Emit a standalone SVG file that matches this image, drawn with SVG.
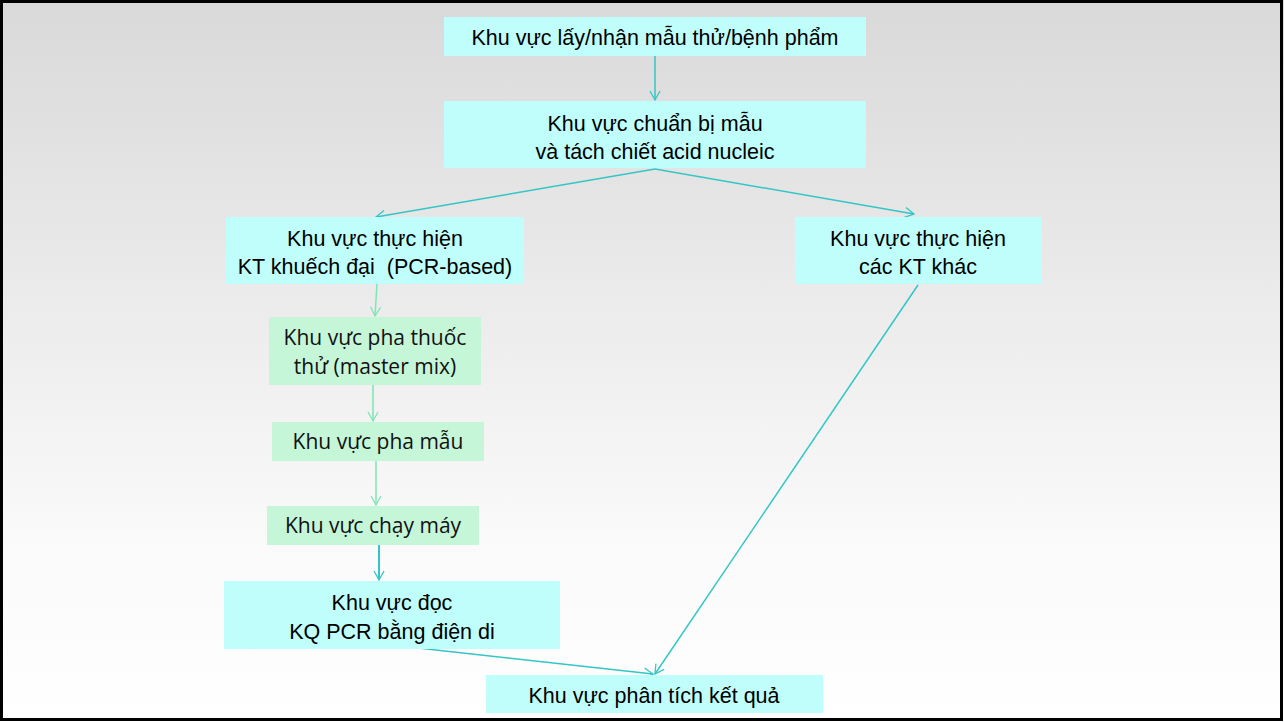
<svg xmlns="http://www.w3.org/2000/svg" width="1284" height="722" viewBox="0 0 1284 722">
<defs>
<linearGradient id="bg" x1="0" y1="0" x2="0" y2="1">
<stop offset="0" stop-color="#d9d9d9"/>
<stop offset="0.75" stop-color="#fafafa"/>
<stop offset="1" stop-color="#ffffff"/>
</linearGradient>
<marker id="at" markerWidth="12" markerHeight="12" refX="10" refY="6" orient="auto" markerUnits="userSpaceOnUse">
<path d="M1,1 L10,6 L1,11" fill="none" stroke="#33c6c6" stroke-width="1.3"/>
</marker>
<marker id="ag" markerWidth="12" markerHeight="12" refX="10" refY="6" orient="auto" markerUnits="userSpaceOnUse">
<path d="M1,1 L10,6 L1,11" fill="none" stroke="#7ee6b4" stroke-width="1.3"/>
</marker>
</defs>
<style>
.c{fill:#c0fefc}
.g{fill:#c6f6d8}
.t{font-family:"Liberation Sans",Arial,sans-serif;font-size:21.5px;fill:#000;text-anchor:middle;white-space:pre}
.tg{font-family:"Open Sans","Liberation Sans",sans-serif;font-size:21px;fill:#111;text-anchor:middle}
.lt{fill:none;stroke:#33c6c6;stroke-width:1.5;marker-end:url(#at)}
.lg{fill:none;stroke:#7ee6b4;stroke-width:1.5;marker-end:url(#ag)}
</style>
<rect x="0" y="0" width="1284" height="722" fill="url(#bg)"/>
<rect x="1.5" y="1.5" width="1280" height="718" fill="none" stroke="#000" stroke-width="3"/>

<g id="connectors">
<line class="lt" x1="655" y1="56" x2="655" y2="100"/>
<line class="lt" x1="655" y1="169" x2="376" y2="217"/>
<line class="lt" x1="655" y1="169" x2="914" y2="214"/>
<line class="lg" x1="377" y1="284" x2="375" y2="316"/>
<line class="lg" x1="373" y1="385" x2="373" y2="421"/>
<line class="lg" x1="376" y1="461" x2="376" y2="505"/>
<line class="lt" x1="379" y1="545" x2="379" y2="580" style="stroke-width:2"/>
<line class="lt" x1="391" y1="645" x2="653" y2="674"/>
<line class="lt" x1="918" y1="285" x2="655" y2="674"/>
</g>

<g id="n1"><rect class="c" x="444" y="17" width="422" height="39"/>
<text class="t" x="655" y="45">Khu vực lấy/nhận mẫu thử/bệnh phẩm</text></g>
<g id="n2"><rect class="c" x="444" y="101" width="422" height="67"/>
<text class="t" x="655" y="131">Khu vực chuẩn bị mẫu</text>
<text class="t" x="655" y="159">và tách chiết acid nucleic</text></g>
<g id="n3"><rect class="c" x="226" y="217" width="298" height="67"/>
<text class="t" x="375" y="246">Khu vực thực hiện</text>
<text class="t" x="375" y="274">KT khuếch đại  (PCR-based)</text></g>
<g id="n4"><rect class="c" x="795" y="217" width="247" height="67"/>
<text class="t" x="918" y="246">Khu vực thực hiện</text>
<text class="t" x="918" y="274">các KT khác</text></g>
<g id="n5"><rect class="g" x="269" y="317" width="212" height="68"/>
<text class="tg" x="375" y="345">Khu vực pha thuốc</text>
<text class="tg" x="375" y="374">thử (master mix)</text></g>
<g id="n6"><rect class="g" x="272" y="422" width="212" height="39"/>
<text class="tg" x="378" y="449">Khu vực pha mẫu</text></g>
<g id="n7"><rect class="g" x="267" y="506" width="212" height="39"/>
<text class="tg" x="373" y="533">Khu vực chạy máy</text></g>
<g id="n8"><rect class="c" x="224" y="581" width="336" height="68"/>
<text class="t" x="392" y="610">Khu vực đọc</text>
<text class="t" x="392" y="639">KQ PCR bằng điện di</text></g>
<g id="n9"><rect class="c" x="486" y="675" width="337" height="38"/>
<text class="t" x="654" y="703">Khu vực phân tích kết quả</text></g>
</svg>
